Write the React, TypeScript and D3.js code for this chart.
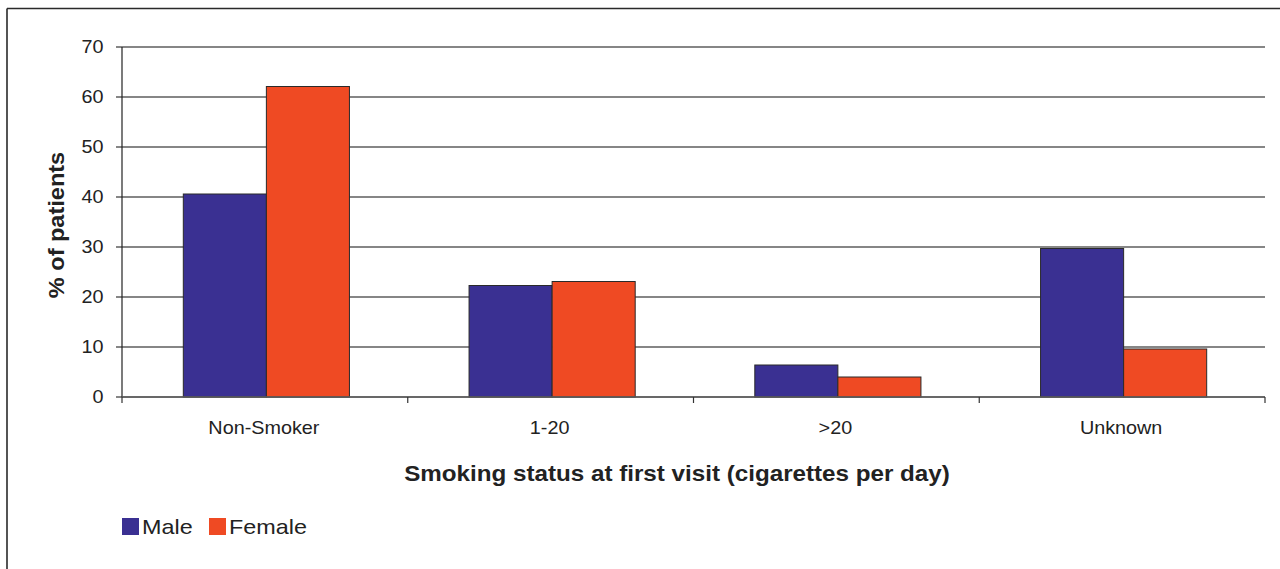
import React from "react";
import * as d3 from "d3";

// Percentage of patients by smoking status at first visit
const categories = ["Non-Smoker", "1-20", ">20", "Unknown"];
const seriesNames = ["Male", "Female"];
const maleValues = [40.6, 22.3, 6.4, 29.7];
const femaleValues = [62.1, 23.1, 4.0, 9.6];
const yTicks = [0, 10, 20, 30, 40, 50, 60, 70];

const colors: Record<string, string> = { Male: "#3a3092", Female: "#ef4a23" };

const W = 1280;
const H = 569;
const plot = { left: 122, right: 1265, top: 47, bottom: 397 };
const FONT = "Arial, 'Liberation Sans', Helvetica, sans-serif";
const SX = 1.1; // horizontal widening of all text

export default function App() {
  const x0 = d3.scaleBand<string>().domain(categories).range([plot.left, plot.right]).padding(0);
  const x1 = d3
    .scaleBand<string>()
    .domain(seriesNames)
    .range([0, x0.bandwidth()])
    .paddingInner(0)
    .paddingOuter(0.72);
  const y = d3.scaleLinear().domain([0, 70]).range([plot.bottom, plot.top]);

  const rows = categories.map((c, i) => ({
    category: c,
    values: [
      { key: "Male", value: maleValues[i] },
      { key: "Female", value: femaleValues[i] },
    ],
  }));

  const catTicks = [...categories.map((c) => x0(c)!), plot.right];

  return (
    <svg
      width={W}
      height={H}
      style={{ position: "absolute", left: 0, top: 0, background: "#fff" }}
      fontFamily={FONT}
    >
      {/* frame */}
      <line x1={7} y1={8.5} x2={W} y2={8.5} stroke="#2a2a2a" strokeWidth={1.6} />
      <line x1={7} y1={8.5} x2={7} y2={H} stroke="#2a2a2a" strokeWidth={1.6} />

      {/* gridlines */}
      {yTicks.map((t) => (
        <line
          key={t}
          x1={plot.left - 6}
          x2={plot.right}
          y1={y(t)}
          y2={y(t)}
          stroke="#5e5e5e"
          strokeWidth={1.3}
        />
      ))}

      {/* y tick labels */}
      {yTicks.map((t) => (
        <g key={t} transform={`translate(103.5,${y(t)}) scale(${SX},1)`}>
          <text textAnchor="end" dy="0.35em" fontSize={18} fill="#222">
            {t}
          </text>
        </g>
      ))}

      {/* bars */}
      {rows.map((r) => (
        <g key={r.category} transform={`translate(${x0(r.category) + 1.5},0)`}>
          {r.values.map((v) => (
            <rect
              key={v.key}
              x={x1(v.key)}
              y={y(v.value)}
              width={x1.bandwidth()}
              height={y(0) - y(v.value)}
              fill={colors[v.key]}
              stroke="#2a2a2a"
              strokeWidth={1}
            />
          ))}
        </g>
      ))}

      {/* axes */}
      <line x1={plot.left} x2={plot.left} y1={plot.top} y2={plot.bottom} stroke="#222" strokeWidth={1.2} />
      <line x1={plot.left} x2={plot.right} y1={plot.bottom} y2={plot.bottom} stroke="#5e5e5e" strokeWidth={1.3} />
      {catTicks.map((t, i) => (
        <line key={i} x1={t} x2={t} y1={plot.bottom} y2={plot.bottom + 6} stroke="#333" strokeWidth={1.2} />
      ))}

      {/* category labels */}
      {categories.map((c) => (
        <g key={c} transform={`translate(${x0(c)! + x0.bandwidth() / 2 - 1},433.5) scale(${SX},1)`}>
          <text textAnchor="middle" fontSize={18} fill="#222">
            {c}
          </text>
        </g>
      ))}

      {/* axis titles */}
      <g transform={`translate(677,481) scale(${SX},1)`}>
        <text textAnchor="middle" fontSize={22} fontWeight="bold" fill="#222">
          Smoking status at first visit (cigarettes per day)
        </text>
      </g>
      <g transform={`translate(64,225) rotate(-90) scale(1.07,1)`}>
        <text textAnchor="middle" fontSize={22} fontWeight="bold" fill="#222">
          % of patients
        </text>
      </g>

      {/* legend */}
      {seriesNames.map((s, i) => {
        const lx = [122, 209][i];
        return (
          <g key={s}>
            <rect x={lx} y={518} width={17} height={17} fill={colors[s]} />
            <g transform={`translate(${lx + 20},533.5) scale(1.14,1)`}>
              <text fontSize={20.5} fill="#222">
                {s}
              </text>
            </g>
          </g>
        );
      })}
    </svg>
  );
}
